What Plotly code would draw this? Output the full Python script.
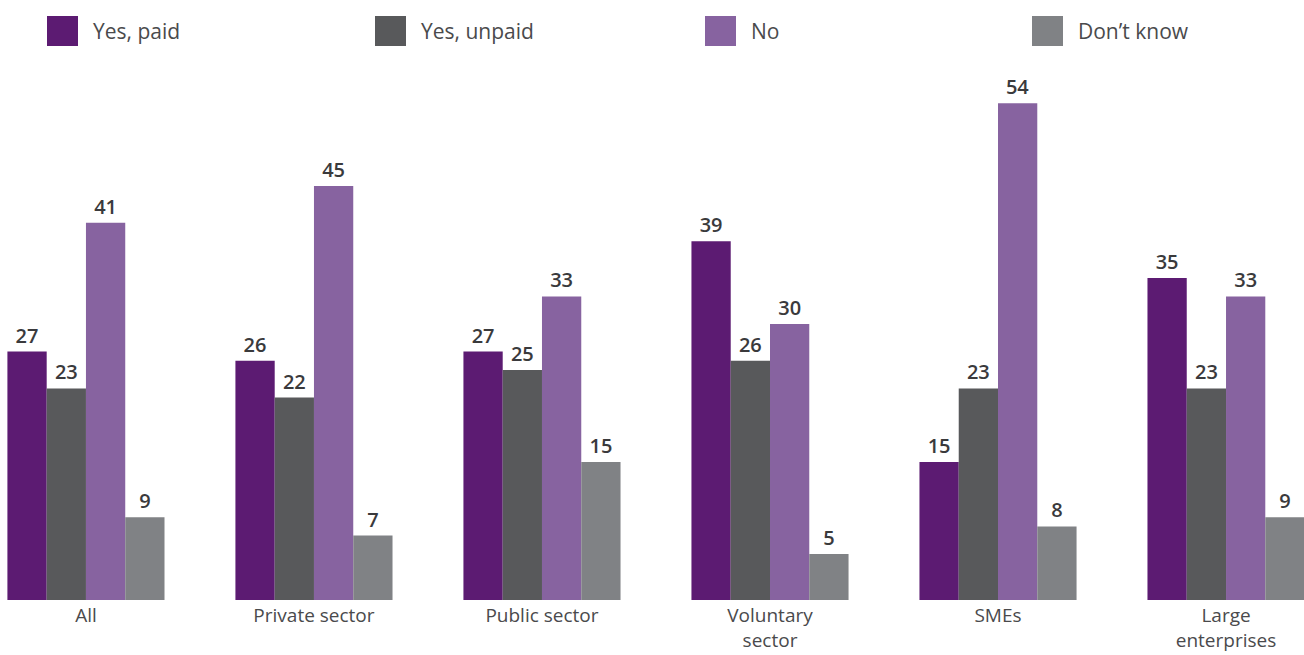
import plotly.graph_objects as go

categories = ["All", "Private sector", "Public sector", "Voluntary<br>sector", "SMEs", "Large<br>enterprises"]
series_names = ["Yes, paid", "Yes, unpaid", "No", "Don’t know"]
yes_paid = [27, 26, 27, 39, 15, 35]
yes_unpaid = [23, 22, 25, 26, 23, 23]
no = [41, 45, 33, 30, 54, 33]
dont_know = [9, 7, 15, 5, 8, 9]
colors = ["#5C1B72", "#58595B", "#8763A0", "#808285"]

W, H = 1304, 655
TOP, BOTTOM = 60, 55
FONT = "Open Sans"
TEXT_COLOR = "#4a4a4c"

fig = go.Figure()
for name, vals, col in zip(series_names, [yes_paid, yes_unpaid, no, dont_know], colors):
    fig.add_trace(go.Bar(
        x=categories, y=vals, name=name, marker_color=col, marker_line_width=0,
        text=vals, textposition="outside", cliponaxis=False,
        textfont=dict(family=FONT, size=20, color="#3a3a3c", weight=600),
        showlegend=False,
    ))

# legend drawn as large squares with labels across the top
legend_x = [47, 375, 705, 1032]
plot_h = H - TOP - BOTTOM
for name, col, lx in zip(series_names, colors, legend_x):
    fig.add_shape(type="rect", xref="paper", yref="paper",
                  x0=lx / W, x1=(lx + 31) / W,
                  y0=(H - BOTTOM - 46) / plot_h, y1=(H - BOTTOM - 16) / plot_h,
                  fillcolor=col, line_width=0)
    fig.add_annotation(xref="paper", yref="paper", x=(lx + 44) / W,
                       y=(H - BOTTOM - 31) / plot_h, text=name, showarrow=False,
                       xanchor="left", yanchor="middle",
                       font=dict(family=FONT, size=21, color=TEXT_COLOR))

fig.update_layout(
    width=W, height=H,
    margin=dict(l=0, r=0, t=TOP, b=BOTTOM),
    plot_bgcolor="white", paper_bgcolor="white",
    barmode="group", bargap=0.311, bargroupgap=0,
    xaxis=dict(range=[-0.377, 5.342], showgrid=False, zeroline=False, showline=False,
               ticks="", ticklabelstandoff=2, automargin=False,
               tickfont=dict(family=FONT, size=19, color=TEXT_COLOR)),
    yaxis=dict(range=[0, 58.7], visible=False, automargin=False),
)

fig.write_html("out.html")
